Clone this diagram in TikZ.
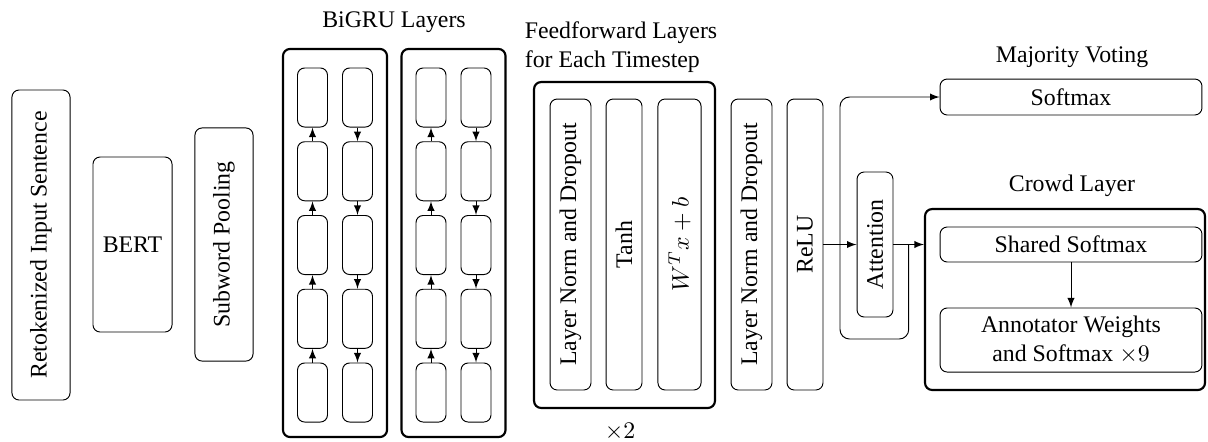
\documentclass[tikz,border=0pt]{standalone}
\usepackage{fontspec}
\setmainfont{Liberation Serif}
\usetikzlibrary{arrows,calc}

\begin{document}
\begin{tikzpicture}[x=0.42pt,y=-0.42pt,>=latex]
  \useasboundingbox (0,0) rectangle (1208,441);

  % outer frames
  \begin{scope}[every node/.style={draw,line width=0.9pt,rounded corners=3pt,inner sep=0pt}]
    \node[minimum width=43.7pt,minimum height=163pt] (gru1) at (335,243) {};
    \node[minimum width=43.7pt,minimum height=163pt] (gru2) at (453.5,243) {};
    \node[minimum width=76pt,minimum height=136.9pt] (ff) at (624.5,245) {};
    \node[minimum width=117.6pt,minimum height=76pt] (crowd) at (1065,299.5) {};
  \end{scope}

  % single layers
  \begin{scope}[every node/.style={draw,thin,rounded corners=3pt,inner sep=0pt}]
    \node[rotate=90,minimum width=130.2pt,minimum height=24.4pt] (input) at (41,245) {Retokenized Input Sentence};
    \node[minimum width=33.2pt,minimum height=73.5pt] (bert) at (132.5,244.5) {BERT};
    \node[rotate=90,minimum width=97.9pt,minimum height=24.4pt] (pool) at (224,244.5) {Subword Pooling};

    \node[rotate=90,minimum width=122.2pt,minimum height=17.2pt] (ln1) at (570.5,244.5) {Layer Norm and Dropout};
    \node[rotate=90,minimum width=122.2pt,minimum height=15.1pt] (tanh) at (624,244.5) {Tanh};
    \node[rotate=90,minimum width=122.2pt,minimum height=18.1pt] (lin) at (679.5,244.5) {$W^T x + b$};
    \node[rotate=90,minimum width=122.2pt,minimum height=17.2pt] (ln2) at (751.5,244.5) {Layer Norm and Dropout};
    \node[rotate=90,minimum width=122.2pt,minimum height=15.1pt] (relu) at (805,244.5) {ReLU};

    \node[rotate=90,minimum width=60.9pt,minimum height=15.1pt] (att) at (875,244.5) {Attention};
    \node[minimum width=110pt,minimum height=15.1pt] (vote) at (1071,97) {Softmax};
    \node[minimum width=110pt,minimum height=14.7pt] (shared) at (1071,244.5) {Shared Softmax};
    \node[minimum width=110pt,minimum height=26.9pt,align=center] (annot) at (1071,340)
      {Annotator Weights\\and Softmax $\times 9$};
  \end{scope}

  % gru cells, forward goes up and backward goes down
  \foreach \g/\cx in {gru1/335,gru2/453.5} {
    \foreach \r in {1,...,5} {
      \node[draw,thin,rounded corners=3pt,minimum width=12.6pt,minimum height=24.8pt,inner sep=0pt]
        (\g f\r) at ({\cx-22.5},{97.5+73.75*(\r-1)}) {};
      \node[draw,thin,rounded corners=3pt,minimum width=12.6pt,minimum height=24.8pt,inner sep=0pt]
        (\g b\r) at ({\cx+22.5},{97.5+73.75*(\r-1)}) {};
    }
    \foreach \r in {1,...,4} {
      \pgfmathtruncatemacro{\n}{\r+1}
      \draw[thin,->] (\g f\n) -- (\g f\r);
      \draw[thin,->] (\g b\r) -- (\g b\n);
    }
  }

  % captions
  \begin{scope}[every node/.style={inner sep=0pt}]
    \node (grulabel) at (394,22) {BiGRU Layers};
    \node[align=left] (fflabel) at (621,47) {Feedforward Layers\\for Each Timestep};
    \node (times) at (620,432) {$\times 2$};
    \node (votelabel) at (1072,57) {Majority Voting};
    \node (crowdlabel) at (1072,186) {Crowd Layer};
  \end{scope}

  % connections (att is turned, so its south side faces right)
  \coordinate (fork) at ($(att.south)!0.5!(att.south -| crowd.west)$);
  \draw[thin,->] (relu) -- (att);
  \draw[thin,->] (att.south) -- (att.south -| crowd.west);
  \draw[thin,->,rounded corners=4pt] (fork) |- (840,339) |- (vote.west);
  \draw[thin,->] (shared) -- (annot);

\end{tikzpicture}
\end{document}
